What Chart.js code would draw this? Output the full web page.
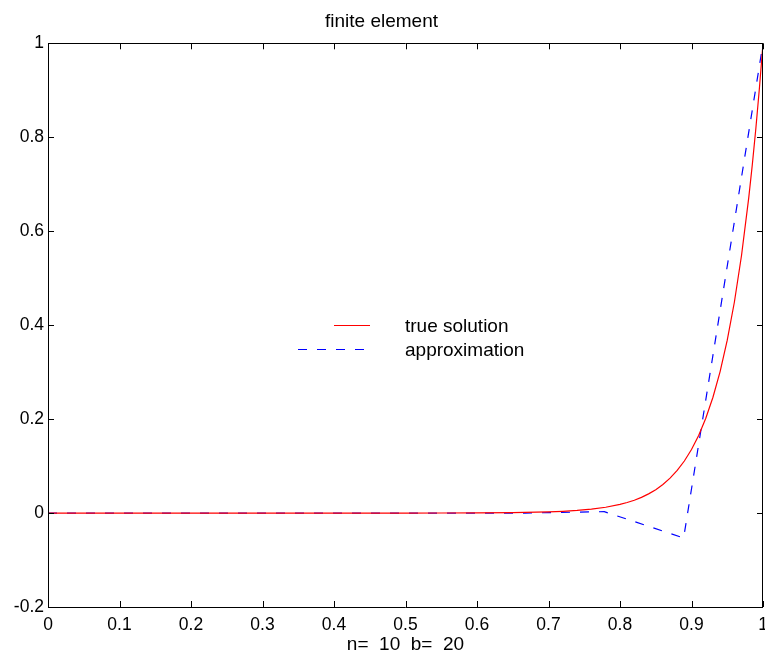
<!DOCTYPE html>
<html>
<head>
<meta charset="utf-8">
<script src="https://cdn.jsdelivr.net/npm/chart.js@4/dist/chart.umd.min.js"></script>
<style>
  html, body { margin: 0; padding: 0; background: #fff; }
  #wrap { width: 765px; height: 657px; }
</style>
</head>
<body>
<div id="wrap"><canvas id="plot" width="765" height="657"></canvas></div>
<script>
// values
const trueX = [0, 0.1, 0.2, 0.3, 0.4, 0.5, 0.55, 0.6, 0.65, 0.7, 0.72, 0.74, 0.76, 0.78, 0.8,
  0.81, 0.82, 0.83, 0.84, 0.85, 0.86, 0.87, 0.88, 0.89, 0.9, 0.91, 0.92, 0.93, 0.94, 0.95,
  0.96, 0.97, 0.98, 0.985, 0.99, 0.995, 1];
const trueY = [0, 0, 0, 0, 0, 0.00005, 0.00012, 0.00034, 0.0009, 0.0025, 0.0037, 0.0055, 0.0082, 0.0123, 0.0183,
  0.0224, 0.0273, 0.0334, 0.0408, 0.0498, 0.0608, 0.0743, 0.0907, 0.1108, 0.1353, 0.1653, 0.2019, 0.2466, 0.3012, 0.3679,
  0.4493, 0.5488, 0.6703, 0.7408, 0.8187, 0.9048, 1];

const approxX = [0, 0.111, 0.222, 0.333, 0.444, 0.556, 0.667, 0.778, 0.889, 1];
const approxY = [0, 0, 0, 0, 0, 0, 0, 0.003, -0.053, 1];

const xTicks = [0, 0.1, 0.2, 0.3, 0.4, 0.5, 0.6, 0.7, 0.8, 0.9, 1];
const xTickLabels = ['0', '0.1', '0.2', '0.3', '0.4', '0.5', '0.6', '0.7', '0.8', '0.9', '1'];
const yTicks = [-0.2, 0, 0.2, 0.4, 0.6, 0.8, 1];
const yTickLabels = ['-0.2', '0', '0.2', '0.4', '0.6', '0.8', '1'];

const seriesNames = ['true solution', 'approximation'];
const titleText = 'finite element';
const xLabel = 'n=  10  b=  20';

const FONT = '"Liberation Sans", Arial, Helvetica, sans-serif';

function toPoints(xs, ys) {
  return xs.map((x, i) => ({ x: x, y: ys[i] }));
}

// box, inward ticks on all four sides, and the legend in the middle
const matlabAxes = {
  id: 'matlabAxes',
  afterDraw(chart) {
    const ctx = chart.ctx;
    const a = chart.chartArea;
    const xs = chart.scales.x, ys = chart.scales.y;
    const len = 6;
    ctx.save();
    ctx.strokeStyle = '#000';
    ctx.lineWidth = 1;
    ctx.beginPath();
    ctx.rect(Math.round(a.left) + 0.5, Math.round(a.top) + 0.5,
      Math.round(a.right - a.left) - 1, Math.round(a.bottom - a.top));
    xTicks.forEach(v => {
      const px = Math.round(xs.getPixelForValue(v)) + 0.5;
      ctx.moveTo(px, a.bottom); ctx.lineTo(px, a.bottom - len);
      ctx.moveTo(px, a.top); ctx.lineTo(px, a.top + len);
    });
    yTicks.forEach(v => {
      const py = Math.round(ys.getPixelForValue(v)) + 0.5;
      ctx.moveTo(a.left, py); ctx.lineTo(a.left + len, py);
      ctx.moveTo(a.right, py); ctx.lineTo(a.right - len, py);
    });
    ctx.stroke();

    // legend
    const ds = chart.data.datasets;
    ctx.font = '19px ' + FONT;
    ctx.fillStyle = '#000';
    ctx.textBaseline = 'middle';
    const rows = [
      { y: 325.5, x0: 334, x1: 370 },
      { y: 349.5, x0: 298, x1: 364 }
    ];
    rows.forEach((r, i) => {
      ctx.beginPath();
      ctx.strokeStyle = ds[i].borderColor;
      ctx.setLineDash(ds[i].borderDash || []);
      ctx.moveTo(r.x0, r.y); ctx.lineTo(r.x1, r.y);
      ctx.stroke();
      ctx.setLineDash([]);
      ctx.fillText(ds[i].label, 405, r.y + 1);
    });
    ctx.restore();
  }
};

new Chart(document.getElementById('plot'), {
  type: 'scatter',
  data: {
    datasets: [
      {
        label: seriesNames[0],
        data: toPoints(trueX, trueY),
        showLine: true,
        borderColor: '#ff0000',
        borderWidth: 1.2,
        pointRadius: 0,
        tension: 0
      },
      {
        label: seriesNames[1],
        data: toPoints(approxX, approxY),
        showLine: true,
        borderColor: '#0000ff',
        borderDash: [9, 10],
        borderWidth: 1.2,
        pointRadius: 0,
        tension: 0
      }
    ]
  },
  options: {
    responsive: false,
    animation: false,
    devicePixelRatio: 1,
    layout: { padding: { left: 0, right: 2, top: 0, bottom: 0 } },
    plugins: {
      legend: { display: false },
      tooltip: { enabled: false },
      title: {
        display: true,
        text: titleText,
        color: '#000',
        font: { family: FONT, size: 19, weight: 'normal' },
        padding: { top: 10, bottom: 10.5 }
      }
    },
    scales: {
      x: {
        type: 'linear',
        min: 0,
        max: 1,
        afterBuildTicks: s => { s.ticks = xTicks.map(v => ({ value: v })); },
        afterFit: s => { s.height = 50; s.paddingLeft = 0; s.paddingRight = 0; },
        grid: { display: false },
        border: { display: false },
        ticks: {
          color: '#000',
          padding: 0,
          maxRotation: 0,
          autoSkip: false,
          font: { family: FONT, size: 17.5 },
          callback: (v, i) => xTickLabels[i]
        },
        title: {
          display: true,
          text: xLabel,
          color: '#000',
          font: { family: FONT, size: 19 },
          padding: { top: 0, bottom: 1 }
        }
      },
      y: {
        type: 'linear',
        min: -0.2,
        max: 1,
        afterBuildTicks: s => { s.ticks = yTicks.map(v => ({ value: v })); },
        afterFit: s => { s.width = 48; s.paddingTop = 0; s.paddingBottom = 0; },
        grid: { display: false },
        border: { display: false },
        ticks: {
          color: '#000',
          padding: -4,
          autoSkip: false,
          font: { family: FONT, size: 17.5 },
          callback: (v, i) => yTickLabels[i]
        }
      }
    }
  },
  plugins: [matlabAxes]
});
</script>
</body>
</html>
